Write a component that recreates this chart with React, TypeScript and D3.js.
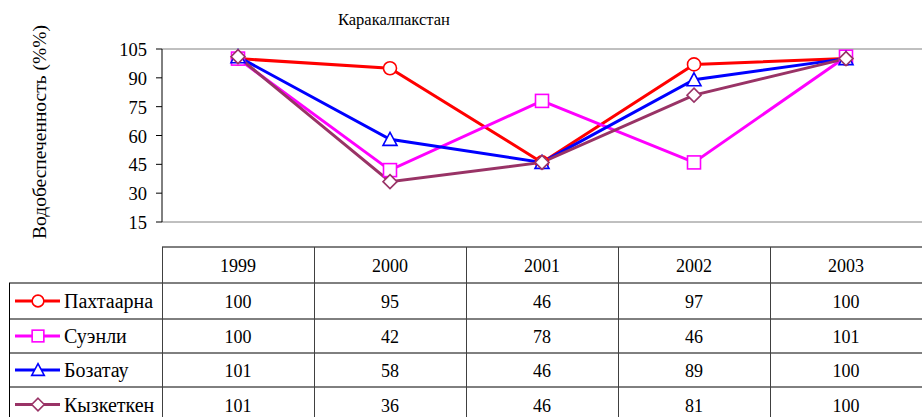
import React from "react";
import * as d3 from "d3";

const years = ["1999", "2000", "2001", "2002", "2003"];
const seriesNames = ["Пахтаарна", "Суэнли", "Бозатау", "Кызкеткен"];
const pakhtaarna = [100, 95, 46, 97, 100];
const suenli = [100, 42, 78, 46, 101];
const bozatau = [101, 58, 46, 89, 100];
const kyzketken = [101, 36, 46, 81, 100];
const yTicks = [15, 30, 45, 60, 75, 90, 105];
const title = "Каракалпакстан";
const yLabel = "Водобеспеченность (%%)";

const colors = ["#FF0000", "#FF00FF", "#0000FF", "#993366"];
const markers = ["circle", "square", "triangle", "diamond"];
const allSeries = [pakhtaarna, suenli, bozatau, kyzketken];

const W = 922, H = 417;
const left = 162, right = 922, top = 49, bottom = 222;
const font = "Liberation Serif";

function Marker({ type, x, y, color, s = 1 }: { type: string; x: number; y: number; color: string; s?: number }) {
  const common = { fill: "#fff", stroke: color, strokeWidth: 1.6 };
  if (type === "circle") return <circle cx={x} cy={y} r={6.5 * s} {...common} />;
  if (type === "square") return <rect x={x - 6.5 * s} y={y - 6.5 * s} width={13 * s} height={13 * s} {...common} />;
  if (type === "triangle")
    return <path d={`M${x},${y - 7 * s} L${x + 7 * s},${y + 6 * s} L${x - 7 * s},${y + 6 * s} Z`} {...common} />;
  return <path d={`M${x},${y - 7 * s} L${x + 7 * s},${y} L${x},${y + 7 * s} L${x - 7 * s},${y} Z`} {...common} />;
}

export default function App() {
  const x = d3.scaleBand<string>().domain(years).range([left, right]);
  const y = d3.scaleLinear().domain([15, 105]).range([bottom, top]);
  const line = d3
    .line<number>()
    .x((_, i) => (x(years[i]) as number) + x.bandwidth() / 2)
    .y((d) => y(d));

  const headerTop = 247, headerBottom = 283;
  const rowYs = [283, 319, 353, 387, 422];

  return (
    <svg width={W} height={H} style={{ position: "absolute", left: 0, top: 0, background: "#fff" }}>
      <text x={338} y={25} fontFamily={font} fontSize={16.5} fill="#000">
        {title}
      </text>
      <text transform={`translate(46,132) rotate(-90)`} fontFamily={font} fontSize={19.5} textAnchor="middle" fill="#000">
        {yLabel}
      </text>
      {/* plot frame lines */}
      <line x1={left} x2={right} y1={top} y2={top} stroke="#808080" strokeWidth={1} />
      <line x1={left} x2={right} y1={bottom} y2={bottom} stroke="#808080" strokeWidth={1} />
      <line x1={left} x2={left} y1={top} y2={bottom} stroke="#000" strokeWidth={1} />
      {yTicks.map((t) => (
        <g key={t}>
          <line x1={left - 6} x2={left} y1={y(t)} y2={y(t)} stroke="#000" />
          <text x={147} y={y(t) + 7} fontFamily={font} fontSize={18.5} textAnchor="end" fill="#000">
            {t}
          </text>
        </g>
      ))}
      {allSeries.map((s, k) => (
        <path key={k} d={line(s) || ""} fill="none" stroke={colors[k]} strokeWidth={3} />
      ))}
      {allSeries.map((s, k) =>
        s.map((v, i) => (
          <Marker
            key={`${k}-${i}`}
            type={markers[k]}
            x={(x(years[i]) as number) + x.bandwidth() / 2}
            y={y(v)}
            color={colors[k]}
          />
        ))
      )}
      {/* table */}
      <line x1={left} x2={right} y1={headerTop} y2={headerTop} stroke="#000" />
      {rowYs.slice(0, 4).map((ry, i) => (
        <line key={i} x1={9} x2={right} y1={ry} y2={ry} stroke="#000" />
      ))}
      <line x1={9.5} x2={9.5} y1={headerBottom} y2={H} stroke="#000" />
      {years.map((yr) => (
        <line
          key={yr}
          x1={(x(yr) as number) + 0.5}
          x2={(x(yr) as number) + 0.5}
          y1={headerTop}
          y2={H}
          stroke="#404040"
        />
      ))}
      {years.map((yr) => (
        <text
          key={yr}
          x={(x(yr) as number) + x.bandwidth() / 2}
          y={(headerTop + headerBottom) / 2 + 7}
          fontFamily={font}
          fontSize={18}
          textAnchor="middle"
          fill="#000"
        >
          {yr}
        </text>
      ))}
      {allSeries.map((s, k) => {
        const cy = (rowYs[k] + rowYs[k + 1]) / 2;
        return (
          <g key={k}>
            <line x1={15} x2={60} y1={cy} y2={cy} stroke={colors[k]} strokeWidth={3} />
            <Marker type={markers[k]} x={38} y={cy} color={colors[k]} s={0.9} />
            <text x={64} y={cy + 7} fontFamily={font} fontSize={20} fill="#000">
              {seriesNames[k]}
            </text>
            {s.map((v, i) => (
              <text
                key={i}
                x={(x(years[i]) as number) + x.bandwidth() / 2}
                y={cy + 7}
                fontFamily={font}
                fontSize={18}
                textAnchor="middle"
                fill="#000"
              >
                {v}
              </text>
            ))}
          </g>
        );
      })}
    </svg>
  );
}
